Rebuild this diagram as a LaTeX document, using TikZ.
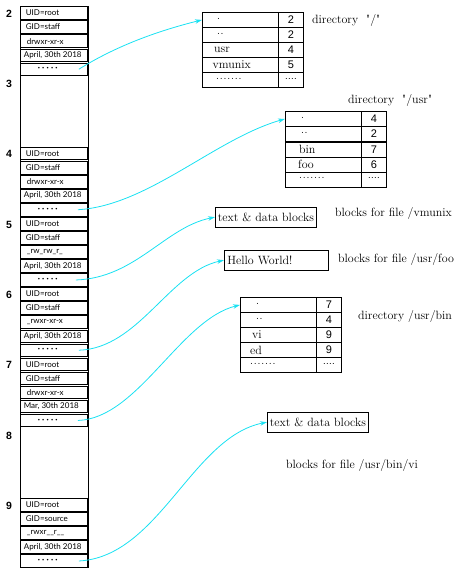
\documentclass[tikz,border=0pt]{standalone}
\usepackage{fontspec}
\newfontfamily\cellfont{Lato}
\newfontfamily\numfont{Liberation Sans}
\newfontfamily\capfont{Latin Modern Roman}[Ligatures=TeXOff]
\usetikzlibrary{arrows.meta}
\definecolor{linkcyan}{RGB}{25,225,242}
\tikzset{
  cell/.style={draw, line width=0.7pt, minimum width=67pt, minimum height=12.6pt, inner sep=0pt},
  celltext/.style={anchor=west, inner sep=0pt, font=\cellfont\fontsize{8}{8}\selectfont},
  blocknum/.style={inner sep=0pt, font=\numfont\bfseries\fontsize{10.5}{11}\selectfont},
  namecell/.style={draw, line width=0.8pt, anchor=north west, minimum width=76pt, minimum height=15pt, inner sep=0pt},
  valcell/.style={draw, line width=0.8pt, anchor=north west, minimum width=25pt, minimum height=15pt, inner sep=0pt,
    font=\numfont\fontsize{11}{11}\selectfont},
  nametext/.style={anchor=west, inner sep=0pt, font=\capfont\fontsize{12}{12}\selectfont},
  blockbox/.style={draw, line width=0.8pt, minimum height=19.5pt, inner xsep=2.5pt, inner ysep=0pt,
    font=\capfont\fontsize{12}{12}\selectfont},
  caption/.style={anchor=west, inner sep=0pt, font=\capfont\fontsize{12}{12}\selectfont},
  link/.style={draw=linkcyan, line width=0.8pt, -{Stealth[length=7pt,width=4.5pt]}}
}
\newcommand\cellDots{\textbf{·\hspace{2.2pt}·\hspace{2.2pt}·\hspace{2.2pt}·\hspace{2.2pt}·}}
\newcommand\dotA{\fontsize{10.5}{10.5}\selectfont\raisebox{2.2pt}{.}}
\newcommand\dotB{\fontsize{10.5}{10.5}\selectfont\raisebox{2.2pt}{.\kern0.6pt.}}
\newcommand\dotG{\fontsize{10.5}{10.5}\selectfont\raisebox{2.2pt}{.\kern0.8pt.\kern0.8pt.\kern0.8pt.\kern0.8pt.\kern0.8pt.\kern0.8pt.}}
\newcommand\dotV{\fontsize{9.5}{9.5}\selectfont\raisebox{2pt}{.\kern0.4pt.\kern0.4pt.\kern0.4pt.}}
\newcommand\inodeblock[5]{%
  \node[cell] (#1a) at (54,#2+7.03) {};
  \node[cell] (#1b) at (54,#2+21.08) {};
  \node[cell] (#1c) at (54,#2+35.13) {};
  \node[cell] (#1d) at (54,#2+49.18) {};
  \node[cell] (#1e) at (54,#2+63.23) {};
  \node[celltext] (#1at) at ([xshift=5.5pt]#1a.west) {UID=root};
  \node[celltext] (#1bt) at ([xshift=5.5pt]#1b.west) {GID=#3};
  \node[celltext] (#1ct) at ([xshift=6.5pt]#1c.west) {#4};
  \node[celltext] (#1dt) at ([xshift=3.5pt]#1d.west) {#5};
  \node[celltext] (#1et) at ([xshift=17.5pt]#1e.west) {\cellDots};
}
\newcommand\dirrow[6]{% prefix, x, y, name, indent, value
  \node[namecell] (#1n) at (#2,#3) {};
  \node[valcell] (#1v) at (#2+76,#3) {#6};
  \node[nametext] (#1t) at ([xshift=#5]#1n.west) {#4};
}
\begin{document}
\begin{tikzpicture}[x=1pt,y=-1pt]
\useasboundingbox (0,0) rectangle (469,568);

% inode column
\node[draw, line width=0.8pt, anchor=north west, minimum width=68pt, minimum height=562pt, inner sep=0pt] (col) at (20,6) {};
\inodeblock{b2}{6}{staff}{drwxr-xr-x}{April, 30th 2018}
\inodeblock{b4}{146.5}{staff}{drwxr-xr-x}{April, 30th 2018}
\inodeblock{b5}{216.75}{staff}{\_rw\_rw\_r\_}{April, 30th 2018}
\inodeblock{b6}{287}{staff}{\_rwxr-xr-x}{April, 30th 2018}
\inodeblock{b7}{357.25}{staff}{drwxr-xr-x}{Mar, 30th 2018}
\inodeblock{b9}{497.75}{source}{\_rwxr\_\_r\_\_}{April, 30th 2018}

% block numbers
\node[blocknum] (n2) at (9,14) {2};
\node[blocknum] (n3) at (9,84.25) {3};
\node[blocknum] (n4) at (9,154) {4};
\node[blocknum] (n5) at (9,224.5) {5};
\node[blocknum] (n6) at (9,294.5) {6};
\node[blocknum] (n7) at (9,364.5) {7};
\node[blocknum] (n8) at (9,435.5) {8};
\node[blocknum] (n9) at (9,505.5) {9};

% directory "/"
\dirrow{ra}{202}{12}{\dotA}{15pt}{2}
\dirrow{rb}{202}{27}{\dotB}{15pt}{2}
\dirrow{rc}{202}{42}{usr}{12pt}{4}
\dirrow{rd}{202}{57}{vmunix}{10.5pt}{5}
\dirrow{re}{202}{72}{\dotG}{14pt}{\dotV}
\node[caption] (capr) at (312,20) {directory\ \ "/"};

% directory "/usr"
\dirrow{ua}{285}{111}{\dotA}{16pt}{4}
\dirrow{ub}{285}{126}{\dotB}{16pt}{2}
\dirrow{uc}{285}{141.5}{bin}{14pt}{7}
\dirrow{ud}{285}{156.5}{foo}{13pt}{6}
\dirrow{ue}{285}{171.5}{\dotG}{14pt}{\dotV}
\node[caption] (capu) at (348,100.5) {directory\ \ "/usr"};

% blocks for /vmunix
\node[blockbox, anchor=north west] (vmb) at (215,207) {text \& data blocks};
\node[caption] (capv) at (335,213) {blocks for file /vmunix};

% blocks for /usr/foo
\node[blockbox, anchor=north west, minimum width=104pt, text width=98pt, align=left] (foob) at (224,250) {Hello World!};
\node[caption] (capf) at (338,259) {blocks for file /usr/foo};

% directory /usr/bin
\dirrow{ba}{240}{297}{\dotA}{16pt}{7}
\dirrow{bb}{240}{312}{\dotB}{16pt}{4}
\dirrow{bc}{240}{327}{vi}{12pt}{9}
\dirrow{bd}{240}{342}{ed}{10pt}{9}
\dirrow{be}{240}{357}{\dotG}{10pt}{\dotV}
\node[caption] (capb) at (358,316) {directory /usr/bin};

% blocks for /usr/bin/vi
\node[blockbox, anchor=north west] (vib) at (267,412) {text \& data blocks};
\node[caption] (capvi) at (286,465) {blocks for file /usr/bin/vi};

% links
\draw[link] ([xshift=-9pt]b2e.east) .. controls +(40,-25) and +(-40,10) .. (ran.west);
\draw[link] ([xshift=-10pt]b4e.east) .. controls +(70,-4) and +(-70,20) .. (uan.west);
\draw[link] ([xshift=-12pt]b5e.east) .. controls +(60,-2) and +(-50,10) .. (vmb.west);
\draw[link] ([xshift=-9pt]b6e.east) .. controls +(60,-2) and +(-55,12) .. (foob.west);
\draw[link] ([xshift=-10pt]b7e.east) .. controls +(60,-2) and +(-60,15) .. (ban.west);
\draw[link] ([xshift=-9pt]b9e.east) .. controls +(80,-4) and +(-75,15) .. (vib.west);
\end{tikzpicture}
\end{document}
